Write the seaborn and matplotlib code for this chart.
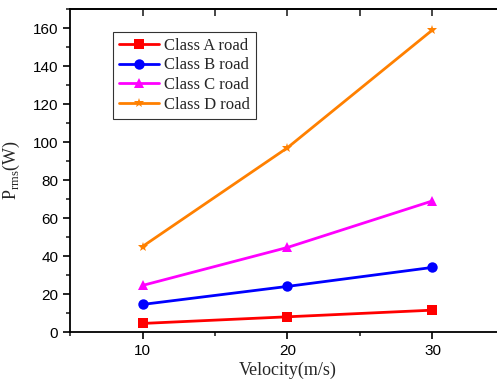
import matplotlib
matplotlib.use("Agg")
import matplotlib.pyplot as plt
import seaborn as sns
import pandas as pd
from matplotlib.ticker import MultipleLocator

velocity = [10, 20, 30]
class_a = [4.5, 8.0, 11.5]
class_b = [14.5, 24.0, 34.0]
class_c = [24.5, 44.5, 69.0]
class_d = [45.0, 97.0, 159.0]
series_names = ["Class A road", "Class B road", "Class C road", "Class D road"]

rows = []
for name, vals in zip(series_names, [class_a, class_b, class_c, class_d]):
    for v, p in zip(velocity, vals):
        rows.append({"Velocity": v, "P": p, "Series": name})
df = pd.DataFrame(rows)

sns.set_style("ticks")
plt.rcParams['font.family'] = ['Liberation Sans', 'DejaVu Sans']
plt.rcParams['mathtext.fontset'] = 'custom'
plt.rcParams['mathtext.rm'] = 'Liberation Serif'

fig = plt.figure(figsize=(4.97, 3.81), dpi=100)
ax = fig.add_axes([70/497, 49/381, 435/497, 323/381])

palette = {"Class A road": "#ff0000", "Class B road": "#0000ff",
           "Class C road": "#ff00ff", "Class D road": "#ff8000"}
markers = {"Class A road": "s", "Class B road": "o",
           "Class C road": "^", "Class D road": "*"}
sns.lineplot(data=df, x="Velocity", y="P", hue="Series", style="Series",
             palette=palette, markers=markers, dashes=False, markersize=7.5,
             markeredgewidth=0, linewidth=2, ax=ax)

ax.set_xlim(5, 35)
ax.set_ylim(0, 170)
ax.xaxis.set_minor_locator(MultipleLocator(5))
ax.yaxis.set_minor_locator(MultipleLocator(10))
ax.set_yticks([0, 20, 40, 60, 80, 100, 120, 140, 160])
ax.set_xticks([10, 20, 30])

for s in ax.spines.values():
    s.set_linewidth(1.3)
    s.set_color("black")

ax.tick_params(axis="both", which="major", direction="out", length=5, width=1.2,
               labelsize=11, colors="black")
ax.tick_params(axis="both", which="minor", direction="out", length=3, width=1.2)
sec = ax.secondary_xaxis("top")
sec.set_xticks([10, 15, 20, 25, 30])
sec.tick_params(direction="in", length=5, width=1.2)
sec.set_xticklabels([])
sec.spines["top"].set_linewidth(1.3)

ax.set_xlabel("Velocity(m/s)", family=["Liberation Serif"], fontsize=13, labelpad=3)
ax.set_ylabel(r"P$_{\mathrm{rms}}$(W)", family=["Liberation Serif"], fontsize=13, labelpad=8)

leg = ax.legend(loc="upper left", bbox_to_anchor=(0.099, 0.929), borderaxespad=0,
                frameon=True, fancybox=False, edgecolor="black",
                prop={"family": "Liberation Serif", "size": 12},
                handlelength=2.4, borderpad=0.35, labelspacing=0.22, handletextpad=0.3)
leg.get_frame().set_linewidth(0.8)

fig.savefig("out.png", dpi=100)
